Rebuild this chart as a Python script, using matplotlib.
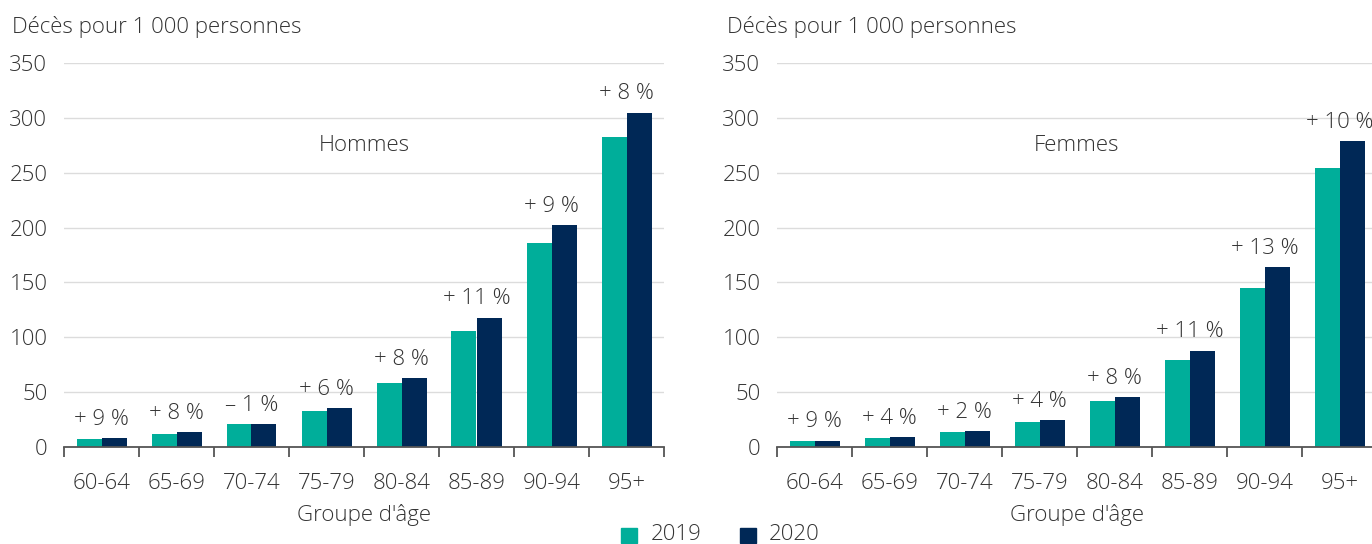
import matplotlib
matplotlib.use("Agg")
import matplotlib.pyplot as plt
from matplotlib.patches import Rectangle

plt.rcParams['font.family'] = ['Open Sans', 'DejaVu Sans']

categories = ["60-64", "65-69", "70-74", "75-79", "80-84", "85-89", "90-94", "95+"]
men_2019 = [7.6, 12.3, 20.9, 33.2, 58.5, 105.9, 185.6, 282.6]
men_2020 = [8.2, 13.3, 20.6, 35.1, 62.9, 117.9, 202.0, 304.8]
men_labels = ["+ 9 %", "+ 8 %", "\u2013 1 %", "+ 6 %", "+ 8 %", "+ 11 %", "+ 9 %", "+ 8 %"]
women_2019 = [5.1, 8.2, 13.9, 23.1, 42.0, 79.0, 145.1, 253.9]
women_2020 = [5.7, 8.9, 14.2, 24.3, 45.2, 87.9, 163.8, 278.8]
women_labels = ["+ 9 %", "+ 4 %", "+ 2 %", "+ 4 %", "+ 8 %", "+ 11 %", "+ 13 %", "+ 10 %"]
yticks = [0, 50, 100, 150, 200, 250, 300, 350]
series_names = ["2019", "2020"]

C2019 = "#00AE9A"
C2020 = "#002856"
TXT = "#333333"
FS = 16

fig = plt.figure(figsize=(13.72, 5.44), dpi=100)
ax1 = fig.add_axes([64/1372, 1-447/544, 600/1372, 384/544])
ax2 = fig.add_axes([777/1372, 1-447/544, 600/1372, 384/544])

def draw(ax, v19, v20, labels, title):
    x = list(range(len(categories)))
    w = 1/3
    ax.bar([i - w/2 for i in x], v19, width=w, color=C2019, zorder=3)
    ax.bar([i + w/2 for i in x], v20, width=w, color=C2020, zorder=3)
    for i, lab in enumerate(labels):
        ax.annotate(lab, xy=(i, max(v19[i], v20[i])), xytext=(0, 6),
                    textcoords="offset points", ha="center", va="bottom",
                    fontsize=FS, color=TXT, fontweight="light", clip_on=False)
    ax.set_xlim(-0.5, len(categories) - 0.5)
    ax.set_ylim(0, 350)
    ax.set_yticks(yticks)
    ax.set_yticklabels([str(t) for t in yticks], fontsize=FS, color=TXT, fontweight="light")
    ax.yaxis.grid(True, color="#dcdcdc", lw=1.0, zorder=0)
    ax.set_axisbelow(True)
    ax.tick_params(axis="y", length=0, pad=12)
    ax.set_xticks(x)
    ax.set_xticklabels(categories, fontsize=FS, color=TXT, fontweight="light")
    ax.set_xticks([i - 0.5 for i in range(len(categories) + 1)], minor=True)
    ax.tick_params(axis="x", which="major", length=0, pad=19)
    ax.tick_params(axis="x", which="minor", length=7, width=1.3, color="#555555")
    for s in ["top", "right", "left"]:
        ax.spines[s].set_visible(False)
    ax.spines["bottom"].set_color("#555555")
    ax.spines["bottom"].set_linewidth(1.3)
    ax.spines["bottom"].set_zorder(4)
    ax.text(3.5, 275, title, ha="center", va="center", fontsize=FS, color=TXT, fontweight="light")
    ax.set_xlabel("Groupe d'âge", fontsize=FS, color=TXT, fontweight="light", labelpad=7)

draw(ax1, men_2019, men_2020, men_labels, "Hommes")
draw(ax2, women_2019, women_2020, women_labels, "Femmes")

fig.text(12/1372, 1-27/544, "Décès pour 1 000 personnes", ha="left", va="center",
         fontsize=FS, color=TXT, fontweight="light")
fig.text(727/1372, 1-27/544, "Décès pour 1 000 personnes", ha="left", va="center",
         fontsize=FS, color=TXT, fontweight="light")

# legend
for xs, col, name, xt in [(621, C2019, series_names[0], 651), (740, C2020, series_names[1], 769)]:
    fig.patches.append(Rectangle((xs/1372, 1-543/544), 16/1372, 15/544,
                                 transform=fig.transFigure, color=col, figure=fig))
    fig.text(xt/1372, 1-534/544, name, ha="left", va="center", fontsize=FS,
             color=TXT, fontweight="light")

fig.savefig("out.png", dpi=100)
